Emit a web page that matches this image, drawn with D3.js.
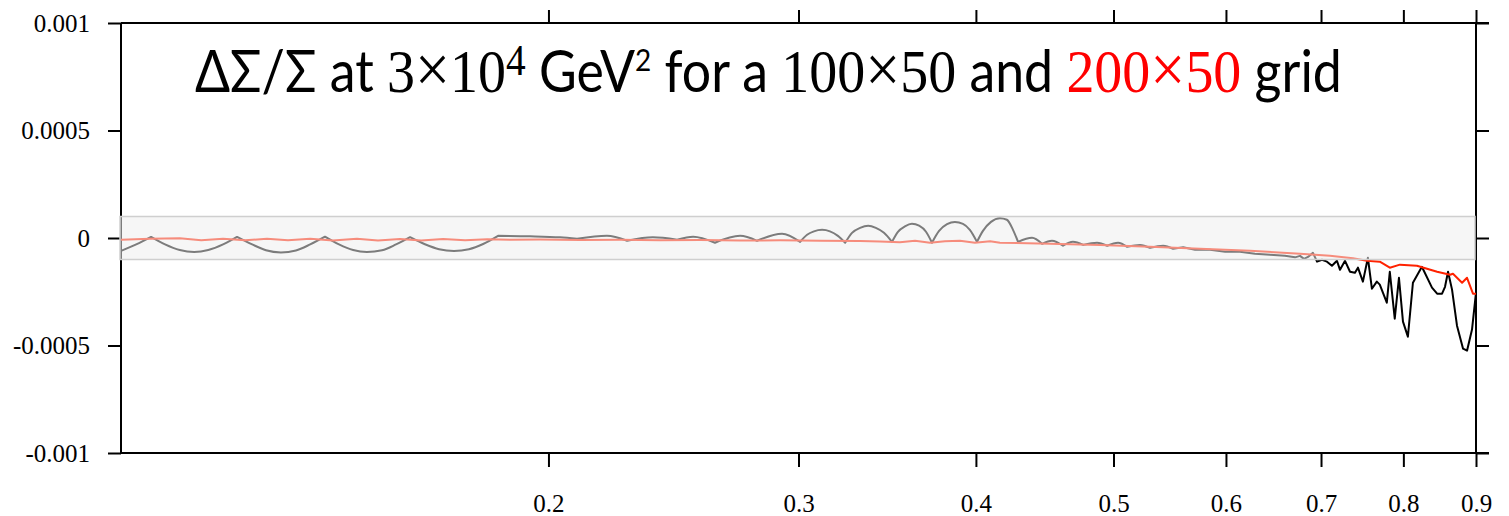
<!DOCTYPE html>
<html>
<head>
<meta charset="utf-8">
<script src="https://cdn.jsdelivr.net/npm/d3@7"></script>
<style>
  html, body { margin: 0; padding: 0; background: #fff; }
  svg { display: block; }
</style>
</head>
<body>
<svg id="chart" width="1509" height="516"></svg>
<script>
// Relative difference ΔΣ/Σ versus x, 100×50 grid (black) and 200×50 grid (red)
const grid100X = [
  0.1, 0.1025, 0.105,
  0.1074, 0.11, 0.1126, 0.1152, 0.118, 0.1207,
  0.1237, 0.1265, 0.1296, 0.1328, 0.1359, 0.1392,
  0.1424, 0.1457, 0.149, 0.1527, 0.1562, 0.1598,
  0.1637, 0.1675, 0.1716, 0.1758, 0.1799, 0.1843,
  0.1941, 0.2038, 0.2095, 0.2199, 0.2272, 0.2369, 0.2464, 0.2529, 0.262, 0.2729, 0.2805, 0.2921, 0.3008,
  0.3042, 0.3076, 0.3117, 0.3157, 0.3198, 0.3236,
  0.3272, 0.3315, 0.3359, 0.3401, 0.3446, 0.3491,
  0.3525, 0.3565, 0.3606, 0.3648, 0.3689, 0.3725,
  0.3768, 0.3817, 0.3866, 0.3917, 0.3961, 0.4007,
  0.4046, 0.4099, 0.4159, 0.4206, 0.4248, 0.4283,
  0.4381, 0.4453, 0.4525, 0.4607, 0.4682, 0.476, 0.4868, 0.4949, 0.5037, 0.5112, 0.522, 0.5305, 0.5419, 0.5507,
  0.5598, 0.5707, 0.5848, 0.5992, 0.6138, 0.6289, 0.6445, 0.6602, 0.6711, 0.6766, 0.6809, 0.6854, 0.6909,
  0.6955, 0.7011, 0.7068, 0.7125, 0.7183, 0.7219, 0.7278, 0.7337, 0.7396, 0.7432, 0.7492, 0.7553, 0.7602,
  0.7663, 0.77, 0.7788, 0.7826, 0.7889, 0.7943, 0.7995, 0.8059, 0.8125, 0.8244, 0.838, 0.845, 0.8518,
  0.8559, 0.8601, 0.8657, 0.8727, 0.8813, 0.887, 0.8942, 0.9
];
const grid100Y = [
  -6.0e-5, -3.0e-5, 0.5e-5,
  -3.0e-5, -5.6e-5, -6.5e-5, -5.6e-5, -3.0e-5, 0.5e-5,
  -3.0e-5, -5.7e-5, -6.7e-5, -5.8e-5, -3.0e-5, 0.6e-5,
  -3.0e-5, -5.6e-5, -6.5e-5, -5.7e-5, -3.0e-5, 0.4e-5,
  -2.9e-5, -5.2e-5, -6.0e-5, -5.2e-5, -2.8e-5, 1.0e-5,
  0.8e-5, 0.3e-5, -0.4e-5, 1.0e-5, -1.3e-5, 0.3e-5, -0.8e-5, 0.6e-5, -2.2e-5, 1.0e-5, -1.3e-5, 2.0e-5, -1.8e-5,
  1.5e-5, 3.1e-5, 3.8e-5, 3.1e-5, 1.0e-5, -2.2e-5,
  2.4e-5, 4.7e-5, 5.7e-5, 4.7e-5, 2.4e-5, -1.8e-5,
  2.9e-5, 5.4e-5, 6.6e-5, 5.7e-5, 2.9e-5, -2.2e-5,
  3.3e-5, 6.4e-5, 7.5e-5, 6.6e-5, 3.8e-5, -1.8e-5,
  3.3e-5, 7.5e-5, 9.2e-5, 8.5e-5, 3.8e-5, -1.8e-5,
  0.1e-5, -2.7e-5, -1.3e-5, -3.6e-5, -1.8e-5, -3.2e-5, -2.2e-5, -3.6e-5, -2.2e-5, -4.1e-5, -3.2e-5, -4.6e-5, -3.6e-5, -5.0e-5,
  -4.3e-5, -5.5e-5, -5.5e-5, -6.4e-5, -6.4e-5, -7.3e-5, -7.8e-5, -8.3e-5, -9.0e-5, -8.3e-5, -9.7e-5, -8.8e-5, -6.9e-5,
  -11.0e-5, -10.1e-5, -11.0e-5, -12.9e-5, -10.6e-5, -14.8e-5, -10.6e-5, -15.7e-5, -16.2e-5, -13.8e-5, -20.3e-5, -9.2e-5, -23.6e-5,
  -20.3e-5, -21.7e-5, -30.1e-5, -15.7e-5, -37.5e-5, -18.5e-5, -38.9e-5, -45.9e-5, -20.8e-5, -13.4e-5, -23.1e-5, -25.9e-5, -25.9e-5,
  -22.7e-5, -15.7e-5, -24.0e-5, -40.8e-5, -51.5e-5, -52.4e-5, -42.6e-5, -25.4e-5
];
// Grid knots of the 100×50 interpolation, where the error curve has cusps
const grid100Knots = [
  0.105, 0.1207, 0.1392, 0.1598, 0.1843,
  0.2095, 0.2272, 0.2464, 0.262, 0.2805, 0.3008, 0.3236, 0.3491, 0.3725, 0.4007, 0.4283,
  0.4453, 0.4607, 0.476, 0.4949, 0.5112, 0.5305, 0.5507
];
const grid200X = [
  0.1, 0.1048, 0.11, 0.1139, 0.118, 0.1223, 0.1267, 0.1311, 0.1359, 0.141, 0.1466, 0.1517, 0.1572, 0.1627,
  0.1686, 0.1747, 0.1811, 0.1879, 0.1973, 0.2105, 0.2246, 0.2397, 0.2557, 0.2729, 0.2912, 0.3107, 0.3315,
  0.3423, 0.3536, 0.3624, 0.3713, 0.3804, 0.3898, 0.3994, 0.4093, 0.4159, 0.4511, 0.4892, 0.5305, 0.5754,
  0.6239, 0.6766, 0.7102, 0.7372, 0.7541, 0.77, 0.7826, 0.7956, 0.8178, 0.8313, 0.845, 0.8629, 0.867,
  0.8799, 0.887, 0.8956, 0.9
];
const grid200Y = [
  -0.8e-5, -0.4e-5, -0.1e-5, -1.0e-5, -0.3e-5, -1.1e-5, -0.3e-5, -1.1e-5, -0.4e-5, -1.2e-5, -0.4e-5, -1.2e-5, -0.5e-5, -1.2e-5,
  -0.5e-5, -1.1e-5, -0.6e-5, -0.8e-5, -0.7e-5, -0.9e-5, -0.8e-5, -1.0e-5, -0.9e-5, -1.2e-5, -1.1e-5, -1.3e-5, -1.4e-5,
  -1.6e-5, -2.0e-5, -1.3e-5, -2.2e-5, -1.5e-5, -1.3e-5, -2.2e-5, -1.5e-5, -2.2e-5, -2.7e-5, -3.2e-5, -4.1e-5, -5.0e-5,
  -5.9e-5, -7.3e-5, -8.3e-5, -9.4e-5, -10.6e-5, -11.0e-5, -13.8e-5, -12.4e-5, -12.9e-5, -14.3e-5, -15.7e-5, -17.1e-5, -16.6e-5,
  -20.8e-5, -18.5e-5, -25.9e-5, -25.9e-5
];

// Axis ticks and the shaded tolerance band
const xTicks = [0.2, 0.3, 0.4, 0.5, 0.6, 0.7, 0.8, 0.9];
const xTickLabels = ["0.2", "0.3", "0.4", "0.5", "0.6", "0.7", "0.8", "0.9"];
const yTicks = [0.001, 0.0005, 0, -0.0005, -0.001];
const yTickLabels = ["0.001", "0.0005", "0", "-0.0005", "-0.001"];
const bandLimits = [-0.0001, 0.0001];
const xDomain = [0.1, 0.9];
const yDomain = [-0.001, 0.001];

(function draw() {
  const svg = d3.select("#chart");
  const left = 121, right = 1476, plotTop = 23, plotBottom = 453;

  const x = d3.scaleLog().domain(xDomain).range([left, right]);
  const y = d3.scaleLinear().domain(yDomain).range([plotBottom, plotTop]);

  const serif = "'Liberation Serif', 'Times New Roman', serif";
  const sans = "Lato, 'Open Sans', sans-serif";

  // Frame lines
  const frame = svg.append("g").attr("stroke", "#000").attr("stroke-width", 2);
  frame.append("line").attr("x1", left).attr("x2", right + 13).attr("y1", plotTop).attr("y2", plotTop);
  frame.append("line").attr("x1", left).attr("x2", right + 13).attr("y1", plotBottom).attr("y2", plotBottom);
  frame.append("line").attr("x1", left).attr("x2", left).attr("y1", plotTop).attr("y2", plotBottom);
  frame.append("line").attr("x1", right).attr("x2", right).attr("y1", plotTop).attr("y2", plotBottom);

  function styleAxis(g) {
    g.select(".domain").remove();
    g.selectAll(".tick line").attr("stroke", "#000").attr("stroke-width", 2);
    g.selectAll(".tick text").attr("font-family", serif).attr("font-size", 25).attr("fill", "#000");
  }

  // Bottom axis with labels
  svg.append("g")
    .attr("transform", `translate(0,${plotBottom})`)
    .call(d3.axisBottom(x).tickValues(xTicks).tickSize(14).tickPadding(27)
      .tickFormat((d, i) => xTickLabels[i]))
    .call(styleAxis);

  // Top axis, ticks only
  svg.append("g")
    .attr("transform", `translate(0,${plotTop})`)
    .call(d3.axisTop(x).tickValues(xTicks).tickSize(13).tickFormat(""))
    .call(styleAxis);

  // Left axis with labels
  svg.append("g")
    .attr("transform", `translate(${left},0)`)
    .call(d3.axisLeft(y).tickValues(yTicks).tickSize(13).tickPadding(18)
      .tickFormat((d, i) => yTickLabels[i]))
    .call(styleAxis);

  // Right axis, ticks only
  svg.append("g")
    .attr("transform", `translate(${right},0)`)
    .call(d3.axisRight(y).tickValues(yTicks).tickSize(13).tickFormat(""))
    .call(styleAxis);

  // Series lines: the 100×50 curve is smooth between knots and sharp at them
  const smooth = d3.line().x(d => x(d[0])).y(d => y(d[1])).curve(d3.curveMonotoneX);
  const straight = d3.line().x(d => x(d[0])).y(d => y(d[1]));
  const s100 = grid100X.map((v, i) => [v, grid100Y[i]]);
  const s200 = grid200X.map((v, i) => [v, grid200Y[i]]);

  const cuts = [0, ...grid100Knots.map(k => grid100X.indexOf(k))];
  let d100 = "";
  for (let i = 0; i < cuts.length - 1; i++) {
    const piece = s100.slice(cuts[i], cuts[i + 1] + 1);
    const p = smooth(piece);
    d100 += i === 0 ? p : "L" + p.slice(1);
  }
  const tail = straight(s100.slice(cuts[cuts.length - 1]));
  d100 += "L" + tail.slice(1);

  svg.append("path")
    .attr("d", d100).attr("fill", "none")
    .attr("stroke", "#000").attr("stroke-width", 2).attr("stroke-linejoin", "round");
  svg.append("path").datum(s200)
    .attr("d", straight).attr("fill", "none")
    .attr("stroke", "#ff2200").attr("stroke-width", 2).attr("stroke-linejoin", "round");

  // Translucent band over the lines
  svg.append("rect")
    .attr("x", left - 1)
    .attr("width", right - left)
    .attr("y", y(bandLimits[1]))
    .attr("height", y(bandLimits[0]) - y(bandLimits[1]))
    .attr("fill", "rgb(238,238,238)").attr("fill-opacity", 0.52)
    .attr("stroke", "#cfcfcf").attr("stroke-width", 1.5);

  // Title
  const titleParts = [
    { t: "ΔΣ/Σ at ", f: sans },
    { t: "3", f: serif }, { t: "×", f: serif, s: 1.2 }, { t: "10", f: serif },
    { t: "4", f: serif, s: 0.76, rise: 0.3 },
    { t: " GeV", f: sans },
    { t: "2", f: sans, s: 0.54, rise: 0.36 },
    { t: " for a ", f: sans },
    { t: "100", f: serif }, { t: "×", f: serif, s: 1.2 }, { t: "50", f: serif },
    { t: " and ", f: sans },
    { t: "200", f: serif, c: "#ff0000" }, { t: "×", f: serif, s: 1.2, c: "#ff0000" }, { t: "50", f: serif, c: "#ff0000" },
    { t: " grid", f: sans }
  ];
  const titleLeft = 195, titleRight = 1342, titleBase = 92, capHeight = 41;

  const title = svg.append("text").attr("x", 0).attr("y", 0).attr("fill", "#000");
  function buildTitle(fs) {
    title.selectAll("tspan").remove();
    let lifted = 0;
    titleParts.forEach(p => {
      const ts = title.append("tspan").text(p.t).attr("font-family", p.f);
      const base = p.f === serif ? fs * 1.08 : fs;
      ts.attr("font-size", p.s ? fs * p.s : base);
      const rise = p.rise ? p.rise * fs : 0;
      if (rise !== lifted) { ts.attr("dy", lifted - rise); lifted = rise; }
      if (p.c) ts.attr("fill", p.c);
    });
  }
  buildTitle(50);
  const w0 = title.node().getComputedTextLength();
  const fs = 50 * (titleRight - titleLeft) / w0;
  buildTitle(fs);
  const ky = capHeight / (0.7165 * fs);
  title.attr("transform", `translate(${titleLeft},${titleBase}) scale(1,${ky})`);
})();
</script>
</body>
</html>
